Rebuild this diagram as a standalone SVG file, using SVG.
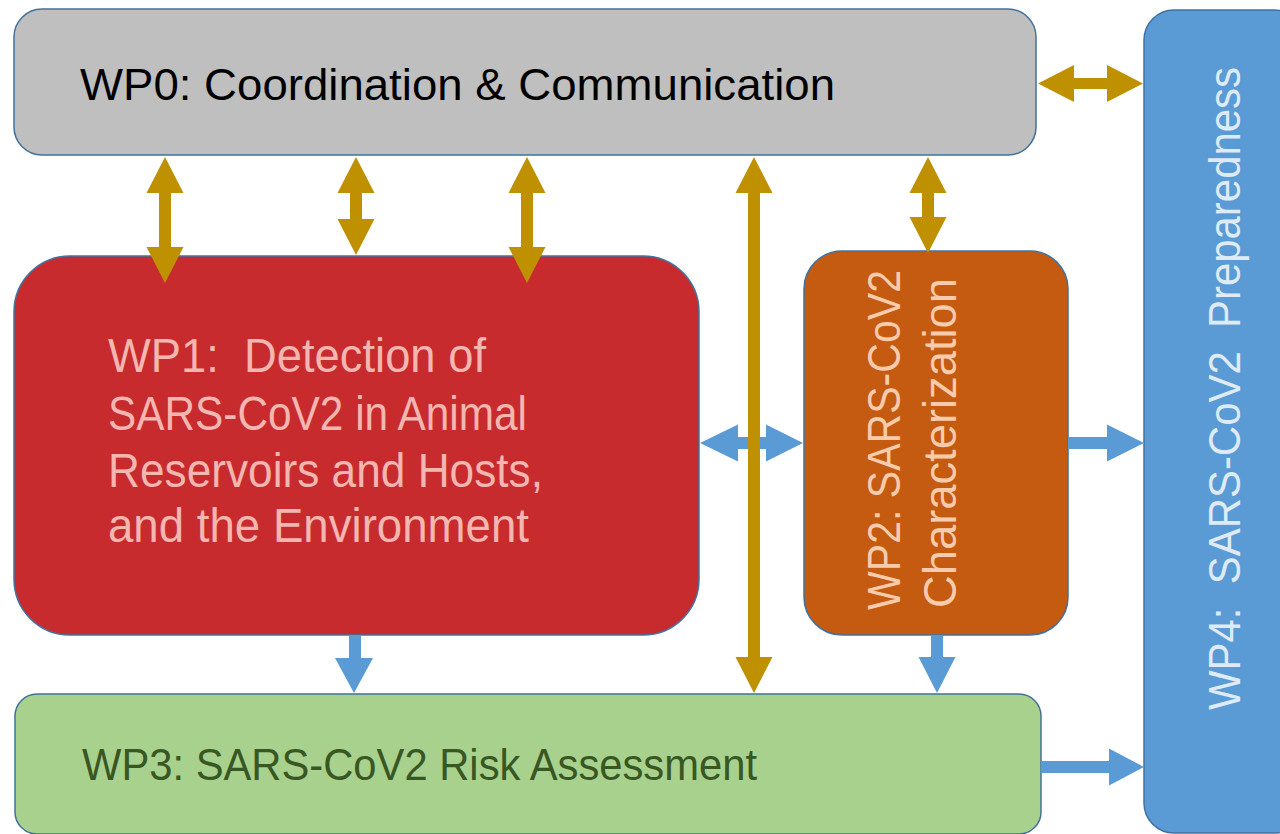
<svg xmlns="http://www.w3.org/2000/svg" width="1280" height="834" viewBox="0 0 1280 834">
<style>
.box{stroke:#41719c;stroke-width:1.5}
.gold{fill:#bf9000}
.blue{fill:#5b9bd5}
text{font-family:"Liberation Sans",Arial,sans-serif}
</style>
<rect width="1280" height="834" fill="#ffffff"/>
<g id="wp4">
<rect class="box" x="1144" y="10" width="160" height="823" rx="30" fill="#5b9bd5"/>
<text transform="translate(1240,710) rotate(-90)" font-size="45" fill="#deebf7" textLength="643" lengthAdjust="spacingAndGlyphs" xml:space="preserve">WP4:  SARS-CoV2  Preparedness</text>
</g>
<g id="wp0">
<rect class="box" x="14" y="9" width="1022" height="146" rx="28" fill="#bfbfbf"/>
<text x="80" y="100" font-size="45" fill="#000000" textLength="755" lengthAdjust="spacingAndGlyphs">WP0: Coordination &amp; Communication</text>
</g>
<g id="wp1">
<rect class="box" x="14" y="256" width="685" height="379" rx="56" fill="#c82b2e"/>
<g font-size="48" fill="#f4b6b0">
<text x="108" y="372" textLength="378" lengthAdjust="spacingAndGlyphs" xml:space="preserve">WP1:  Detection of</text>
<text x="108" y="430" textLength="419" lengthAdjust="spacingAndGlyphs">SARS-CoV2 in Animal</text>
<text x="108" y="487" textLength="435" lengthAdjust="spacingAndGlyphs">Reservoirs and Hosts,</text>
<text x="108" y="542" textLength="421" lengthAdjust="spacingAndGlyphs">and the Environment</text>
</g>
</g>
<g id="wp2">
<rect class="box" x="804" y="251" width="264" height="384" rx="38" fill="#c55a11"/>
<g font-size="46" fill="#f8cbad">
<text transform="translate(900,610) rotate(-90)" textLength="340" lengthAdjust="spacingAndGlyphs">WP2: SARS-CoV2</text>
<text transform="translate(956,608) rotate(-90)" textLength="330" lengthAdjust="spacingAndGlyphs">Characterization</text>
</g>
</g>
<g id="wp3">
<rect class="box" x="15" y="694" width="1026" height="140" rx="22" fill="#a9d18e"/>
<text x="82" y="780" font-size="45" fill="#385723" textLength="675" lengthAdjust="spacingAndGlyphs">WP3: SARS-CoV2 Risk Assessment</text>
</g>
<g id="connectors">
<polygon class="blue" points="349,635 361,635 361,658 373,658 354,693 335,658 349,658"/>
<polygon class="blue" points="700,443 738,424.5 738,437 766,437 766,424.5 803,443 766,461.5 766,449 738,449 738,461.5"/>
<polygon class="blue" points="1068,437 1107,437 1107,424.5 1144,443 1107,461.5 1107,449 1068,449"/>
<polygon class="blue" points="931,635 943,635 943,657 955.5,657 937,693 918.5,657 931,657"/>
<polygon class="blue" points="1041,761 1109,761 1109,748.5 1144,767 1109,785.5 1109,773 1041,773"/>
<polygon class="gold" points="165,157 183.5,193 171,193 171,247 183.5,247 165,283 146.5,247 159,247 159,193 146.5,193"/>
<polygon class="gold" points="356,157 374.5,193 362,193 362,219 374.5,219 356,255 337.5,219 350,219 350,193 337.5,193"/>
<polygon class="gold" points="527,157 545.5,193 533,193 533,247 545.5,247 527,283 508.5,247 521,247 521,193 508.5,193"/>
<polygon class="gold" points="754,157 772.5,193 760,193 760,657 772.5,657 754,693 735.5,657 748,657 748,193 735.5,193"/>
<polygon class="gold" points="928,157 946.5,193 934,193 934,217 946.5,217 928,253 909.5,217 922,217 922,193 909.5,193"/>
<polygon class="gold" points="1038,83.5 1074,65 1074,78 1107,78 1107,65 1143,83.5 1107,102 1107,89 1074,89 1074,102"/>
</g>
</svg>
